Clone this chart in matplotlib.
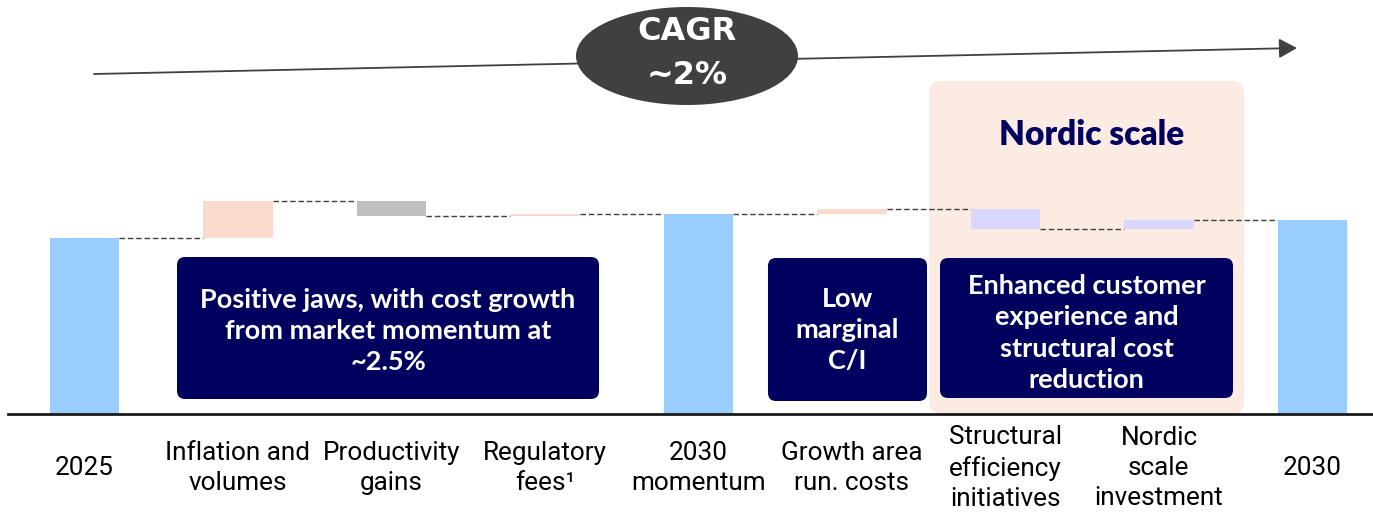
import matplotlib
matplotlib.use("Agg")
import matplotlib.pyplot as plt
from matplotlib.patches import FancyBboxPatch, Ellipse, FancyArrowPatch
from matplotlib.transforms import Affine2D, blended_transform_factory

# waterfall data (2025 cost base = 100)
categories = ["2025", "Inflation and\nvolumes", "Productivity\ngains", "Regulatory\nfees¹",
              "2030\nmomentum", "Growth area\nrun. costs", "Structural\nefficiency\ninitiatives",
              "Nordic\nscale\ninvestment", "2030"]
values = [100, 20.9, -8.7, 1.2, 113.4, 2.8, -11.4, 5.1, 109.9]
is_total = [True, False, False, False, True, False, False, False, True]
bar_colors = ["#99CCFF", "#F9DACC", "#BFBFBF", "#F9DACC", "#99CCFF",
              "#F9DACC", "#D7D7FF", "#D7D7FF", "#99CCFF"]

NAVY = "#00005E"
W, H = 1373, 513

fig = plt.figure(figsize=(W / 100, H / 100), dpi=100)
ax = fig.add_axes([0, 0, 1, 1])
ax.set_xlim(-84.5 / 153.5, (W - 84.5) / 153.5)
ax.set_ylim(-(H - 413.5) / 1.76, 413.5 / 1.76)
ax.axis("off")

# pixel coords, y measured from the top of the image
pix = Affine2D().scale(1, -1).translate(0, H).scale(0.01) + fig.dpi_scale_trans

# Nordic scale panel
ax.add_patch(FancyBboxPatch((929 + 12, 81 + 12), 315 - 24, 333 - 24,
                            boxstyle="round,pad=12", fc="#FCEBE2", ec="none",
                            transform=pix, zorder=0))
ax.text(1092, 135, "Nordic scale", transform=pix, ha="center", va="center",
        fontsize=24, fontweight="heavy", family="Lato", color=NAVY)

# bars
width = 0.45
level = 0
levels = []
for i, (v, tot, c) in enumerate(zip(values, is_total, bar_colors)):
    if tot:
        ax.bar(i, v, width=width, bottom=0, color=c, zorder=2)
        level = v
    else:
        ax.bar(i, v, width=width, bottom=level, color=c, zorder=2)
        level += v
    levels.append(level)

for i in range(len(values) - 1):
    ax.plot([i + width / 2, i + 1 - width / 2], [levels[i], levels[i]],
            color="#404040", lw=1, ls=(0, (4, 2)), zorder=1)

# baseline
ax.plot([8, W], [414, 414], color="#1a1a1a", lw=2, transform=pix, zorder=3)

# category labels
lab_tr = blended_transform_factory(ax.transData, pix)
for i, cat in enumerate(categories):
    ax.text(i, 468, cat, transform=lab_tr, ha="center", va="center",
            fontsize=18.8, family="Roboto", color="black", linespacing=1.31)

# navy comment boxes
boxes = [
    (177, 257, 599, 399, "Positive jaws, with cost growth\nfrom market momentum at\n~2.5%", 331),
    (768, 258, 927, 401, "Low\nmarginal\nC/I", 330),
    (940, 258, 1233, 398, "Enhanced customer\nexperience and\nstructural cost\nreduction", 333),
]
for x0, y0, x1, y1, txt, ty in boxes:
    r = 8
    ax.add_patch(FancyBboxPatch((x0 + r, H - y1 + r), x1 - x0 - 2 * r, y1 - y0 - 2 * r,
                                boxstyle="round,pad=%d" % r, fc=NAVY, ec="none",
                                transform=Affine2D().scale(0.01) + fig.dpi_scale_trans,
                                zorder=4))
    ax.text((x0 + x1) / 2, ty, txt, transform=pix, ha="center", va="center",
            fontsize=19.5, fontweight="bold", family="Lato", color="white",
            linespacing=1.37, zorder=5)

# CAGR arrow and ellipse
ax.add_patch(FancyArrowPatch((94, 74), (1297, 48), transform=pix,
                             arrowstyle="-|>,head_length=0.55,head_width=0.3",
                             mutation_scale=20, color="#404040", lw=1.3,
                             shrinkA=0, shrinkB=0, zorder=3))
ax.add_patch(Ellipse((687, 56), 222, 98, transform=pix, fc="#404040", ec="none", zorder=4))
ax.text(687, 31, "CAGR", transform=pix, ha="center", va="center", fontsize=23,
        fontweight="bold", family="DejaVu Sans", color="white", zorder=5)
ax.text(687, 76, "~2%", transform=pix, ha="center", va="center", fontsize=23,
        fontweight="bold", family="DejaVu Sans", color="white", zorder=5)

fig.savefig("out.png", dpi=100)
